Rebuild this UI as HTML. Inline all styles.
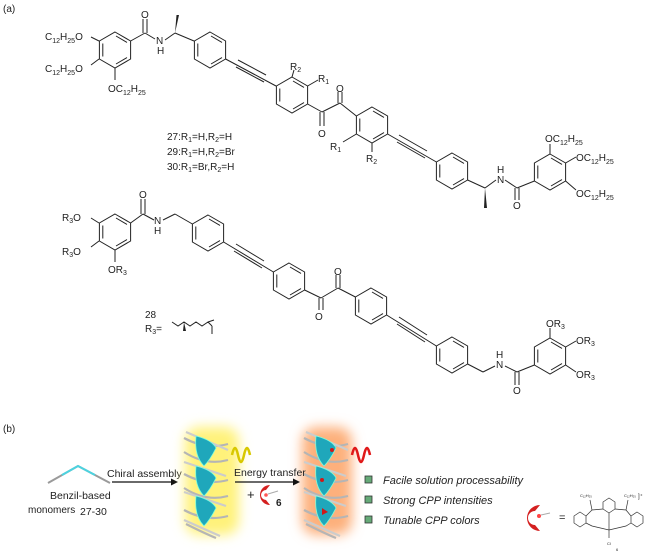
<!DOCTYPE html>
<html><head><meta charset="utf-8"><style>
body{margin:0;background:#fff}
svg{display:block;font-family:"Liberation Sans",sans-serif}
</style></head><body>
<svg width="650" height="557" viewBox="0 0 650 557" xmlns="http://www.w3.org/2000/svg">
<defs>
<g id="h" fill="none" stroke="#222" stroke-width="1">
<polygon points="0,-18 15.6,-9 15.6,9 0,18 -15.6,9 -15.6,-9"/>
<line x1="1" y1="-14" x2="12" y2="-7.6"/><line x1="12" y1="7.6" x2="1" y2="14"/><line x1="-12.2" y1="6.5" x2="-12.2" y2="-6.5"/>
</g>
<filter id="bl" x="-50%" y="-50%" width="200%" height="200%"><feGaussianBlur stdDeviation="6"/></filter>
<g id="hx">
<g fill="none" stroke="#b5b5b5" stroke-width="2.2">
<path d="M-22,-42 Q0,-30 22,-36 M-22,-28 Q0,-14 22,-20 M-22,-6 Q0,6 22,0 M-22,8 Q0,22 22,16 M-22,30 Q0,42 22,36 M-20,44 Q0,54 10,58"/>
<path d="M-20,-48 L22,-30 M-22,-18 L20,-4 M-22,12 L20,26 M-22,40 L14,56" stroke="#ccc"/>
</g>
<g fill="#1fa7bb" stroke="#7fd" stroke-width="0.8">
<path d="M-10,-44 Q6,-40 10,-32 Q4,-20 -2,-14 Q-12,-24 -10,-44 Z"/>
<path d="M-10,-14 Q6,-10 10,-2 Q4,10 -2,16 Q-12,6 -10,-14 Z"/>
<path d="M-10,16 Q6,20 10,28 Q4,40 -2,46 Q-12,36 -10,16 Z"/>
</g>
</g>
</defs>
<g font-size="10" fill="#222">
<text x="3" y="12">(a)</text>
<!-- top molecule -->
<use href="#h" x="115" y="50"/><use href="#h" x="210" y="50"/><use href="#h" x="292" y="95"/>
<use href="#h" x="372" y="125"/><use href="#h" x="452" y="171"/><use href="#h" x="550" y="172"/>
<g stroke="#222" stroke-width="1" fill="none">
<line x1="99" y1="41" x2="91" y2="37"/><line x1="99" y1="59" x2="91" y2="65"/><line x1="115" y1="68" x2="115" y2="80"/>
<line x1="130.6" y1="41" x2="145" y2="33"/><line x1="143" y1="33" x2="143" y2="19"/><line x1="147" y1="33" x2="147" y2="19"/>
<line x1="145" y1="33" x2="155" y2="39"/><line x1="165" y1="40" x2="175" y2="33"/><line x1="175" y1="33" x2="194" y2="41"/>
<line x1="225.6" y1="59" x2="276" y2="86"/><line x1="238" y1="60" x2="266" y2="75"/><line x1="236" y1="67" x2="264" y2="82"/>
<line x1="292" y1="77" x2="294" y2="70"/><line x1="307.6" y1="86" x2="318" y2="80"/>
<line x1="307.6" y1="104" x2="322" y2="112"/><line x1="320" y1="112" x2="320" y2="126"/><line x1="324" y1="112" x2="324" y2="126"/>
<line x1="322" y1="112" x2="340" y2="103"/><line x1="338" y1="103" x2="338" y2="92"/><line x1="342" y1="103" x2="342" y2="92"/>
<line x1="340" y1="103" x2="356.4" y2="116"/>
<line x1="356.4" y1="134" x2="343" y2="142"/><line x1="372" y1="143" x2="372" y2="152"/>
<line x1="387.6" y1="134" x2="436.4" y2="162"/><line x1="399" y1="135" x2="427" y2="151"/><line x1="397" y1="142" x2="425" y2="158"/>
<line x1="467.6" y1="180" x2="485" y2="188"/><line x1="485" y1="188" x2="496" y2="180"/><line x1="505" y1="180" x2="517" y2="188"/>
<line x1="515" y1="188" x2="515" y2="200"/><line x1="519" y1="188" x2="519" y2="200"/><line x1="517" y1="188" x2="534.4" y2="181"/>
<line x1="550" y1="154" x2="550" y2="144"/><line x1="565.6" y1="163" x2="576" y2="157"/><line x1="565.6" y1="181" x2="576" y2="190"/>
</g>
<polygon points="175,33 176.5,15 179,15" fill="#222"/>
<polygon points="485,188 484,208 487,208" fill="#222"/>
<text x="45" y="40">C<tspan font-size="7" dy="3">12</tspan><tspan dy="-3">H</tspan><tspan font-size="7" dy="3">25</tspan><tspan dy="-3">O</tspan></text>
<text x="45" y="72">C<tspan font-size="7" dy="3">12</tspan><tspan dy="-3">H</tspan><tspan font-size="7" dy="3">25</tspan><tspan dy="-3">O</tspan></text>
<text x="108" y="92">OC<tspan font-size="7" dy="3">12</tspan><tspan dy="-3">H</tspan><tspan font-size="7" dy="3">25</tspan></text>
<text x="141" y="18">O</text><text x="156" y="44">N</text><text x="157" y="54">H</text>
<text x="290" y="70">R<tspan font-size="7" dy="2">2</tspan></text><text x="318" y="82">R<tspan font-size="7" dy="2">1</tspan></text>
<text x="318" y="137">O</text><text x="336" y="92">O</text>
<text x="330" y="150">R<tspan font-size="7" dy="2">1</tspan></text><text x="366" y="162">R<tspan font-size="7" dy="2">2</tspan></text>
<text x="497" y="183">N</text><text x="497" y="173">H</text><text x="513" y="209">O</text>
<text x="545" y="142">OC<tspan font-size="7" dy="3">12</tspan><tspan dy="-3">H</tspan><tspan font-size="7" dy="3">25</tspan></text>
<text x="576" y="161">OC<tspan font-size="7" dy="3">12</tspan><tspan dy="-3">H</tspan><tspan font-size="7" dy="3">25</tspan></text>
<text x="576" y="197">OC<tspan font-size="7" dy="3">12</tspan><tspan dy="-3">H</tspan><tspan font-size="7" dy="3">25</tspan></text>
<text x="167" y="140">27:R<tspan font-size="7" dy="2">1</tspan><tspan dy="-2">=H,R</tspan><tspan font-size="7" dy="2">2</tspan><tspan dy="-2">=H</tspan></text>
<text x="167" y="155">29:R<tspan font-size="7" dy="2">1</tspan><tspan dy="-2">=H,R</tspan><tspan font-size="7" dy="2">2</tspan><tspan dy="-2">=Br</tspan></text>
<text x="167" y="170">30:R<tspan font-size="7" dy="2">1</tspan><tspan dy="-2">=Br,R</tspan><tspan font-size="7" dy="2">2</tspan><tspan dy="-2">=H</tspan></text>
<!-- bottom molecule -->
<use href="#h" x="115" y="232"/><use href="#h" x="208" y="233"/><use href="#h" x="289" y="281"/>
<use href="#h" x="371" y="306"/><use href="#h" x="452" y="355"/><use href="#h" x="550" y="356"/>
<g stroke="#222" stroke-width="1" fill="none">
<line x1="99" y1="223" x2="91" y2="218"/><line x1="99" y1="241" x2="91" y2="247"/><line x1="115" y1="250" x2="115" y2="262"/>
<line x1="130.6" y1="223" x2="143" y2="214"/><line x1="141" y1="214" x2="141" y2="199"/><line x1="145" y1="214" x2="145" y2="199"/>
<line x1="143" y1="214" x2="154" y2="220"/><line x1="163" y1="220" x2="175" y2="214"/><line x1="175" y1="214" x2="192.4" y2="224"/>
<line x1="223.6" y1="242" x2="273.4" y2="272"/><line x1="236" y1="244" x2="264" y2="261"/><line x1="234" y1="251" x2="262" y2="268"/>
<line x1="304.6" y1="290" x2="321" y2="298"/><line x1="319" y1="298" x2="319" y2="310"/><line x1="323" y1="298" x2="323" y2="310"/>
<line x1="321" y1="298" x2="338" y2="288"/><line x1="336" y1="288" x2="336" y2="275"/><line x1="340" y1="288" x2="340" y2="275"/>
<line x1="338" y1="288" x2="355.4" y2="297"/>
<line x1="386.6" y1="315" x2="436.4" y2="346"/><line x1="399" y1="317" x2="427" y2="335"/><line x1="397" y1="324" x2="425" y2="342"/>
<line x1="467.6" y1="364" x2="483" y2="372"/><line x1="483" y1="372" x2="495" y2="366"/><line x1="505" y1="366" x2="517" y2="372"/>
<line x1="515" y1="372" x2="515" y2="385"/><line x1="519" y1="372" x2="519" y2="385"/><line x1="517" y1="372" x2="534.4" y2="365"/>
<line x1="550" y1="338" x2="550" y2="328"/><line x1="565.6" y1="347" x2="576" y2="341"/><line x1="565.6" y1="365" x2="576" y2="372"/>
<polyline points="172,322 178,326 184,322 190,326 196,322 202,326 208,322 212,326"/>
<line x1="212" y1="326" x2="212" y2="334"/><line x1="208" y1="322" x2="214" y2="320"/>
</g>
<polygon points="184,322 183,331 186,331" fill="#222"/>
<text x="62" y="221">R<tspan font-size="7" dy="2">3</tspan><tspan dy="-2">O</tspan></text>
<text x="62" y="255">R<tspan font-size="7" dy="2">3</tspan><tspan dy="-2">O</tspan></text>
<text x="108" y="273">OR<tspan font-size="7" dy="2">3</tspan></text>
<text x="139" y="198">O</text><text x="154" y="224">N</text><text x="154" y="234">H</text>
<text x="315" y="320">O</text><text x="334" y="275">O</text>
<text x="496" y="368">N</text><text x="496" y="358">H</text><text x="513" y="394">O</text>
<text x="546" y="327">OR<tspan font-size="7" dy="2">3</tspan></text>
<text x="576" y="344">OR<tspan font-size="7" dy="2">3</tspan></text>
<text x="576" y="378">OR<tspan font-size="7" dy="2">3</tspan></text>
<text x="145" y="318">28</text>
<text x="145" y="332">R<tspan font-size="7" dy="2">3</tspan><tspan dy="-2">=</tspan></text>
<!-- part b -->
<text x="3" y="432">(b)</text>
<polyline points="48,483 78,466 110,483" fill="none" stroke="#9a9a9a" stroke-width="2"/>
<polyline points="62,475 78,466 95,475" fill="none" stroke="#4cd3e0" stroke-width="2"/>
<text x="50" y="499" font-size="10.5">Benzil-based</text>
<text x="28" y="513" font-size="10">monomers</text><text x="80" y="515" font-size="10.5">27-30</text>
<text x="107" y="477" font-size="10.5">Chiral assembly</text>
<line x1="112" y1="482" x2="174" y2="482" stroke="#111" stroke-width="1.2"/><polygon points="178,482 171,478.5 171,485.5" fill="#111"/>
<rect x="185" y="427" width="54" height="108" rx="14" fill="#fff27a" filter="url(#bl)"/>
<rect x="302" y="427" width="50" height="108" rx="14" fill="#fdb07c" filter="url(#bl)"/>
<use href="#hx" x="206" y="480"/>
<use href="#hx" x="326" y="480"/>
<g fill="#d01818"><circle cx="332" cy="450" r="2"/><circle cx="322" cy="480" r="2"/><path d="M322,508 l6,4 l-6,3z"/></g>
<path d="M232,455 q3,-14 6,0 q3,14 6,0 q3,-14 6,0" fill="none" stroke="#d8c800" stroke-width="2.5"/>
<path d="M352,455 q3,-14 6,0 q3,14 6,0 q3,-14 6,0" fill="none" stroke="#e01818" stroke-width="2.5"/>
<text x="234" y="476" font-size="10.5">Energy transfer</text>
<line x1="235" y1="482" x2="296" y2="482" stroke="#111" stroke-width="1.2"/><polygon points="300,482 293,478.5 293,485.5" fill="#111"/>
<text x="247" y="499" font-size="13">+</text>
<path d="M270,485 A10,10 0 1 0 270,505 L266,500 A5,5 0 1 1 266,490 Z" fill="#d42020"/>
<circle cx="266" cy="495" r="1.8" fill="#f55"/><line x1="268" y1="494" x2="278" y2="491" stroke="#aaa"/>
<text x="276" y="506" font-size="10" font-weight="bold">6</text>
<g font-size="11" font-style="italic">
<rect x="365" y="476" width="7" height="7" fill="#6a7" stroke="#333" stroke-width="0.8"/><text x="383" y="484">Facile solution processability</text>
<rect x="365" y="496" width="7" height="7" fill="#6a7" stroke="#333" stroke-width="0.8"/><text x="383" y="504">Strong CPP intensities</text>
<rect x="365" y="516" width="7" height="7" fill="#6a7" stroke="#333" stroke-width="0.8"/><text x="383" y="524">Tunable CPP colors</text>
</g>
<path d="M540,505 A13,13 0 1 0 540,531 L535,525 A6,6 0 1 1 535,511 Z" fill="#d42020"/>
<circle cx="539" cy="516" r="2" fill="#f44"/><line x1="541" y1="515" x2="550" y2="513" stroke="#aaa"/>
<text x="559" y="521" font-size="11">=</text>
<g stroke="#333" stroke-width="0.7" fill="none">
<polygon points="574,516 580,512 586,516 586,523 580,527 574,523"/>
<polygon points="603,502 609,498 615,502 615,509 609,513 603,509"/>
<polygon points="631,516 637,512 643,516 643,523 637,527 631,523"/>
<path d="M586,516 L592,510 L603,509 M615,509 L626,510 L631,516 M586,523 L592,526 L609,530 L626,526 L631,523 M609,513 L609,530 M609,530 L609,538 M592,510 L590,500 M626,510 L628,500"/>
</g>
<text x="580" y="497" font-size="4">C₁₂H₂₅</text><text x="624" y="497" font-size="4">C₁₂H₂₅</text>
<text x="638" y="498" font-size="6">]⁺</text><text x="607" y="545" font-size="4">Cl</text><text x="616" y="551" font-size="4">6</text>
</g>
</svg>
</body></html>
